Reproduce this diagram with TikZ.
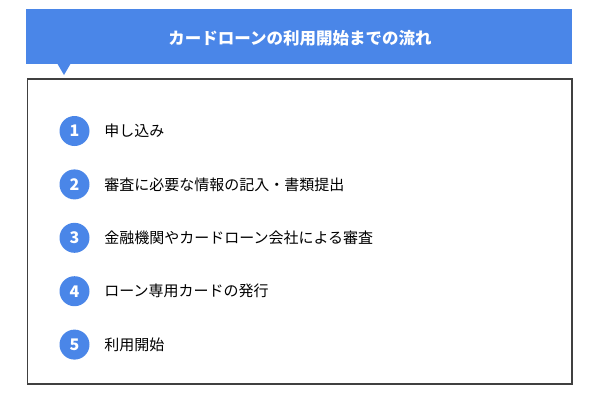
\documentclass[tikz,border=0pt]{standalone}
\usepackage{fontspec}
\newfontfamily\cjk{Noto Sans CJK JP}
\usetikzlibrary{positioning}
\definecolor{headblue}{HTML}{4A86E8}
\tikzstyle{banner} = [fill=headblue, draw=none]
\tikzstyle{frame} = [draw=black!75, line width=1.2pt]
\tikzstyle{num} = [circle, fill=headblue, minimum size=30pt, inner sep=0pt, text=white, font=\cjk\bfseries\fontsize{16}{16}\selectfont]
\tikzstyle{item} = [anchor=west, inner sep=0pt, font=\cjk\fontsize{15}{15}\selectfont]

\begin{document}
\begin{tikzpicture}[x=1pt, y=-1pt]
	\useasboundingbox (0,0) rectangle (600,400);
	% header
	\fill[banner] (26,9) rectangle (572,64);
	\fill[banner] (57,63) -- (71,63) -- (64,75) -- cycle;
	\node[text=white, font=\cjk\bfseries\fontsize{16.5}{16.5}\selectfont] (title) at (300,38) {カードローンの利用開始までの流れ};
	% list
	\draw[frame] (27.5,79) rectangle (572,384);
	\node[num] (n1) at (74.5,131) {1};
	\node[item, right=14.5pt of n1] (t1) {申し込み};
	\node[num, below=23pt of n1] (n2) {2};
	\node[item, right=14.5pt of n2] (t2) {審査に必要な情報の記入・書類提出};
	\node[num, below=23pt of n2] (n3) {3};
	\node[item, right=14.5pt of n3] (t3) {金融機関やカードローン会社による審査};
	\node[num, below=23pt of n3] (n4) {4};
	\node[item, right=14.5pt of n4] (t4) {ローン専用カードの発行};
	\node[num, below=23pt of n4] (n5) {5};
	\node[item, right=14.5pt of n5] (t5) {利用開始};
\end{tikzpicture}
\end{document}
